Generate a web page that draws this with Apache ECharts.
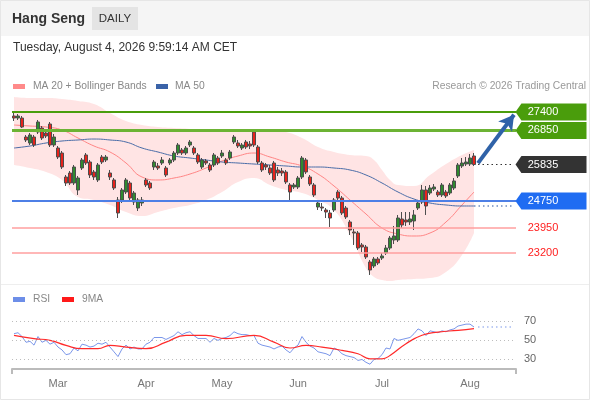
<!DOCTYPE html>
<html>
<head>
<meta charset="utf-8">
<title>Hang Seng daily</title>
<script src="https://cdn.jsdelivr.net/npm/echarts@6/dist/echarts.min.js"></script>
<style>
  html, body { margin: 0; padding: 0; background: #fff; }
  #chart { width: 590px; height: 400px; }
</style>
</head>
<body>
<div id="chart"></div>
<script>
'use strict';

// trading days shown on the axis (last ten are empty future slots)
var febDays = [10, 11, 12, 13, 16, 20, 23, 24, 25, 26, 27];
var marDays = [2, 3, 4, 5, 6, 9, 10, 11, 12, 13, 16, 17, 18, 19, 20, 23, 24, 25, 26, 27, 30, 31];
var aprDays = [1, 2, 8, 9, 10, 13, 14, 15, 16, 17, 20, 21, 22, 23, 24, 27, 28, 29, 30];
var mayDays = [4, 5, 6, 7, 8, 11, 12, 13, 14, 15, 18, 19, 20, 21, 22, 26, 27, 28, 29];
var junDays = [1, 2, 3, 4, 5, 8, 9, 10, 11, 12, 15, 16, 17, 18, 22, 23, 24, 25, 26, 29, 30];
var julDays = [2, 3, 6, 7, 8, 9, 10, 13, 14, 15, 16, 17, 20, 21, 22, 23, 24, 27, 28, 29, 30, 31];
var augDays = [3, 4, 5, 6, 7, 10, 11, 12, 13, 14, 17, 18];
var monthNames = { '02': 'Feb', '03': 'Mar', '04': 'Apr', '05': 'May', '06': 'Jun', '07': 'Jul', '08': 'Aug' };

var opens = [
  27281, 27221, 27221, 26655, 26476, 26655, 26804, 26923, 26774, 27042,
  26417, 26327, 26178, 25463, 25582, 25284, 25076, 25731, 26119, 25910,
  25612, 25374, 26059, 25970, 25582, 25374, 24778, 24778, 25016, 25284,
  24718, 24539, 24688, 25374, 25284, 25761, 25791, 25880, 25731, 25880,
  25970, 26178, 26268, 26178, 26417, 26327, 26119, 25761, 25940, 25821,
  25821, 26029, 26089, 25970, 26029, 26506, 26476, 26327, 26506, 26446,
  26804, 26357, 25880, 25821, 25731, 25880, 25672, 25642, 25612, 25225,
  25165, 25165, 25463, 25970, 25463, 25225, 24569, 24569, 24480, 24390,
  24480, 25016, 24837, 24539, 24122, 23824, 23794, 23437, 23377, 22930,
  22811, 23019, 23049, 23198, 23347, 23586, 23586, 24211, 24182, 24122,
  24152, 24539, 24718, 25076, 24986, 25105, 25016, 24927, 25016, 24986,
  25135, 25493, 25791, 25850, 25850, 26089
];
var closes = [
  27221, 27281, 26953, 26566, 26715, 26417, 27102, 26625, 26685, 26417,
  26655, 26059, 25761, 25284, 25284, 25761, 25433, 25970, 25880, 25523,
  25463, 25821, 25910, 26059, 25463, 25135, 24390, 25076, 25374, 24837,
  24986, 24778, 24778, 25225, 25135, 25910, 25731, 25970, 25523, 25970,
  26178, 26417, 26178, 26327, 26506, 26178, 25910, 25970, 25880, 25672,
  26119, 25880, 26178, 25880, 26208, 26655, 26387, 26417, 26357, 26387,
  26417, 25910, 25672, 25761, 25582, 25374, 25582, 25582, 25314, 25016,
  25225, 25433, 26029, 25612, 25254, 24927, 24688, 24539, 24420, 24241,
  24778, 24837, 24390, 24271, 23884, 23794, 23347, 23377, 23079, 22692,
  23019, 22900, 23109, 23347, 23645, 23705, 24241, 24033, 24122, 24211,
  24331, 24688, 25076, 24599, 25135, 25165, 24927, 25225, 24897, 25225,
  25344, 25821, 25880, 25910, 26029, 25835
];
var lows = [
  27132, 27162, 26923, 26506, 26417, 26357, 26744, 26566, 26625, 26357,
  26357, 25999, 25701, 25195, 25225, 25225, 24927, 25672, 25821, 25433,
  25374, 25314, 25850, 25910, 25374, 25076, 24241, 24688, 24956, 24778,
  24629, 24450, 24599, 25165, 25076, 25672, 25672, 25821, 25463, 25821,
  25910, 26119, 26119, 26119, 26357, 26119, 25850, 25701, 25821, 25612,
  25761, 25821, 26029, 25821, 25970, 26446, 26327, 26268, 26297, 26297,
  26357, 25850, 25612, 25672, 25523, 25314, 25493, 25493, 25254, 24718,
  25105, 25105, 25403, 25552, 25195, 24867, 24480, 24450, 24241, 23973,
  24420, 24778, 24331, 24211, 23735, 23437, 23288, 23228, 23019, 22543,
  22751, 22841, 22990, 23139, 23288, 23466, 23526, 23943, 24003, 24033,
  23884, 24480, 24658, 24331, 24927, 25046, 24867, 24867, 24837, 24927,
  25076, 25433, 25731, 25791, 25791, 25791
];
var highs = [
  27370, 27340, 27281, 26715, 26774, 26715, 27162, 26983, 26834, 27102,
  26744, 26387, 26238, 25523, 25642, 25821, 25493, 26029, 26178, 25970,
  25672, 25880, 26119, 26119, 25672, 25433, 24867, 25135, 25433, 25344,
  25046, 24837, 24867, 25433, 25344, 25970, 25880, 26059, 25791, 26029,
  26238, 26476, 26327, 26387, 26566, 26387, 26178, 26029, 25999, 25880,
  26178, 26089, 26268, 26029, 26268, 26715, 26566, 26476, 26566, 26536,
  26864, 26417, 25940, 25880, 25821, 25940, 25761, 25731, 25672, 25284,
  25284, 25493, 26089, 26029, 25523, 25284, 24778, 24688, 24539, 24480,
  24837, 25076, 24897, 24599, 24182, 23913, 23854, 23496, 23437, 22990,
  23079, 23079, 23198, 23437, 23705, 24003, 24331, 24420, 24420, 24420,
  24480, 24778, 25225, 25195, 25225, 25254, 25076, 25284, 25076, 25284,
  25433, 25880, 26029, 26059, 26148, 26178
];

// Bollinger bands, read at these candle positions
var bandIdx = [0, 4, 8, 12, 16, 20, 24, 28, 32, 36, 40, 44, 48, 52, 56, 60, 64, 68, 72, 76, 80, 84, 88,
  90, 92, 94, 96, 100, 104, 108, 112, 115];
var bandHigh = [27847, 27817, 27817, 27787, 27728, 27638, 27370, 27132, 27013, 26953, 26923, 26893, 26834,
  26804, 26804, 26864, 26864, 26804, 26625, 26357, 26208, 26119, 26089,
  25970, 25672, 25374, 25225, 25195, 25523, 25850, 26119, 26268];
var bandLow = [25821, 25731, 25612, 25374, 24867, 24778, 24629, 24420, 24301, 24420, 24539, 24629, 24778,
  25016, 25314, 25433, 25225, 25076, 24986, 24778, 24480, 23735, 22751,
  22483, 22394, 22364, 22394, 22423, 22453, 22632, 23139, 23794];

// moving averages, read at these candle positions
var maIdx = [0, 4, 8, 12, 16, 20, 24, 28, 32, 36, 40, 44, 48, 52, 56, 60, 64, 68, 72, 76, 80, 84, 88,
  92, 96, 100, 104, 108, 112, 115];
var ma20 = [27013, 26983, 26953, 26864, 26625, 26387, 26208, 25880, 25463, 25374, 25433, 25552, 25731,
  25940, 26089, 26178, 26059, 25910, 25791, 25552, 25195, 24778, 24360,
  23943, 23764, 23705, 23794, 24122, 24629, 25016];
var ma50 = [26327, 26387, 26476, 26536, 26566, 26595, 26566, 26506, 26327, 26208, 26089, 26029, 25970,
  25910, 25880, 25850, 25821, 25791, 25761, 25761, 25731, 25672, 25523,
  25284, 25016, 24807, 24688, 24629, 24599, 24599];

var rsi = [
  57, 58, 54, 48, 49, 45, 54, 48, 50, 46,
  48, 43, 40, 35, 36, 42, 39, 46, 45, 43,
  44, 47, 46, 48, 43, 38, 33, 41, 45, 41,
  43, 41, 41, 46, 48, 53, 53, 53, 51, 53,
  55, 59, 56, 58, 59, 55, 52, 52, 52, 48,
  52, 50, 52, 53, 55, 59, 57, 56, 56, 55,
  55, 47, 45, 44, 43, 41, 43, 44, 40, 37,
  42, 45, 54, 48, 44, 42, 38, 37, 36, 34,
  42, 40, 36, 34, 33, 32, 29, 30, 27, 25,
  30, 31, 35, 42, 41, 52, 50, 51, 52, 53,
  57, 62, 60, 55, 60, 59, 58, 60, 59, 61,
  62, 65, 66, 67, 67, 64
];
var rsiMaIdx = [0, 5, 9, 13, 17, 21, 24, 28, 33, 38, 43, 48, 53, 60, 65, 69, 73, 77, 82, 86, 89, 92, 94,
  98, 102, 106, 111, 115];
var rsiMa = [55.3, 51.8, 50, 44.7, 41.3, 41.3, 44.7, 42.9, 41.3, 48.2, 55.3, 55.3, 51.8, 55.3, 48.2, 42,
  44.7, 42.9, 39.5, 36, 30.7, 30.7, 34.2, 46.5, 55.3, 58.7, 60.5, 62.3];
var rsiLevels = [70, 50, 30];

var resistances = [27400, 26850];
var supports = [23950, 23200];
var pivot = 24750;
var lastPrice = 25835;
var target = 27400;

var FONT = "'Liberation Sans', Arial, sans-serif";

function buildDates() {
  var out = [];
  [['02', febDays], ['03', marDays], ['04', aprDays], ['05', mayDays],
   ['06', junDays], ['07', julDays], ['08', augDays]].forEach(function (m) {
    m[1].forEach(function (d) {
      out.push('2026-' + m[0] + '-' + (d < 10 ? '0' + d : d));
    });
  });
  return out;
}
var dates = buildDates();
var lastIdx = closes.length - 1;
var endIdx = dates.length - 1;

function pairs(idx, vals) {
  return idx.map(function (x, k) { return [x, vals[k]]; });
}
function isMonthStart(index, value) {
  return index > 0 && value.slice(5, 7) !== dates[index - 1].slice(5, 7);
}

var candles = opens.map(function (o, i) {
  return [o, closes[i], lows[i], highs[i]];
});

var tagPath = 'path://M0,8 L6,0 L72,0 L72,16 L6,16 Z';
function tag(value, color, textColor, boxed) {
  return {
    coord: [endIdx, value],
    value: value,
    symbol: boxed ? tagPath : 'rect',
    symbolSize: [71, 17],
    symbolOffset: [37, 0],
    itemStyle: { color: boxed ? color : 'rgba(0,0,0,0)' },
    label: { color: textColor }
  };
}

var myChart = echarts.init(document.getElementById('chart'), null, { renderer: 'canvas' });

var option = {
  animation: false,
  backgroundColor: '#fff',
  textStyle: { fontFamily: FONT },
  graphic: [
    { type: 'rect', shape: { x: 0, y: 0, width: 590, height: 36 }, style: { fill: '#f5f5f5' }, silent: true },
    { type: 'text', x: 12, y: 19, style: { text: 'Hang Seng', font: 'bold 14px ' + FONT, fill: '#333', verticalAlign: 'middle' } },
    { type: 'rect', shape: { x: 92, y: 7, width: 46, height: 23 }, style: { fill: '#e4e4e4' } },
    { type: 'text', x: 115, y: 19, style: { text: 'DAILY', font: '11.5px ' + FONT, fill: '#333', align: 'center', verticalAlign: 'middle' } },
    { type: 'text', x: 13, y: 48, style: { text: 'Tuesday, August 4, 2026 9:59:14 AM CET', font: '12px ' + FONT, fill: '#333', verticalAlign: 'middle' } },
    { type: 'rect', shape: { x: 13, y: 84, width: 12, height: 5 }, style: { fill: '#ff8a8a' } },
    { type: 'text', x: 33, y: 86.5, style: { text: 'MA 20 + Bollinger Bands', font: '10.3px ' + FONT, fill: '#888', verticalAlign: 'middle' } },
    { type: 'rect', shape: { x: 156, y: 84, width: 12, height: 5 }, style: { fill: '#3a63a8' } },
    { type: 'text', x: 175, y: 86.5, style: { text: 'MA 50', font: '10.3px ' + FONT, fill: '#888', verticalAlign: 'middle' } },
    { type: 'text', x: 586, y: 86.5, style: { text: 'Research \u00a9 2026 Trading Central', font: '10.3px ' + FONT, fill: '#999', align: 'right', verticalAlign: 'middle' } },
    { type: 'line', shape: { x1: 0, y1: 284.5, x2: 590, y2: 284.5 }, style: { stroke: '#eeeeee', lineWidth: 1 } },
    { type: 'rect', shape: { x: 13, y: 297, width: 12, height: 5 }, style: { fill: '#6d8ee8' } },
    { type: 'text', x: 33, y: 299.5, style: { text: 'RSI', font: '10.3px ' + FONT, fill: '#888', verticalAlign: 'middle' } },
    { type: 'rect', shape: { x: 62, y: 297, width: 12, height: 5 }, style: { fill: '#ff1a1a' } },
    { type: 'text', x: 82, y: 299.5, style: { text: '9MA', font: '10.3px ' + FONT, fill: '#888', verticalAlign: 'middle' } },
    // end tick of the bottom time axis
    { type: 'line', shape: { x1: 516, y1: 369, x2: 516, y2: 374 }, style: { stroke: '#bbbbbb', lineWidth: 2 } },
    { type: 'rect', shape: { x: 0.5, y: 0.5, width: 589, height: 399 }, style: { fill: 'none', stroke: '#e6e6e6', lineWidth: 1 }, silent: true }
  ],
  grid: [
    { left: 12, top: 95, width: 504, height: 188 },
    { left: 12, top: 306, width: 504, height: 63 }
  ],
  xAxis: [
    { type: 'category', gridIndex: 0, data: dates, boundaryGap: true, show: false },
    {
      type: 'category', gridIndex: 1, data: dates, boundaryGap: true,
      axisLine: { lineStyle: { color: '#bbbbbb', width: 2 } },
      axisTick: { show: true, interval: function (i) { return i === 0; }, length: 5, inside: false, lineStyle: { color: '#bbbbbb', width: 2 } },
      axisLabel: {
        interval: isMonthStart,
        formatter: function (v) { return monthNames[v.slice(5, 7)]; },
        color: '#777', fontSize: 11, margin: 9, fontFamily: FONT
      },
      splitLine: { show: false }
    }
  ],
  yAxis: [
    { type: 'value', gridIndex: 0, min: 22304, max: 27907, show: false },
    { type: 'value', gridIndex: 1, min: 20, max: 86, show: false }
  ],
  series: [
    {
      name: 'bbBase', type: 'line', xAxisIndex: 0, yAxisIndex: 0, stack: 'bb', z: 1,
      data: pairs(bandIdx, bandLow), smooth: true, symbol: 'none', silent: true,
      lineStyle: { opacity: 0 }
    },
    {
      name: 'bbFill', type: 'line', xAxisIndex: 0, yAxisIndex: 0, stack: 'bb', z: 1,
      data: bandIdx.map(function (x, k) { return [x, bandHigh[k] - bandLow[k]]; }),
      smooth: true, symbol: 'none', silent: true,
      lineStyle: { opacity: 0 },
      areaStyle: { color: '#ffe4e4', opacity: 1 }
    },
    {
      name: 'MA 20', type: 'line', z: 2, data: pairs(maIdx, ma20), smooth: true, symbol: 'none',
      lineStyle: { color: '#ff8585', width: 1 }
    },
    {
      name: 'MA 50', type: 'line', z: 2, data: pairs(maIdx, ma50), smooth: true, symbol: 'none',
      lineStyle: { color: '#4a6da8', width: 1 }
    },
    {
      name: 'MA 50 ext', type: 'line', z: 2, data: [[lastIdx, ma50[ma50.length - 1]], [endIdx, ma50[ma50.length - 1]]],
      symbol: 'none', lineStyle: { color: '#6f8cc0', width: 1.5, type: [1.5, 3] }
    },
    {
      name: 'last ext', type: 'line', z: 2, data: [[lastIdx + 1, lastPrice], [endIdx, lastPrice]],
      symbol: 'none', lineStyle: { color: '#333', width: 1.2, type: [1.5, 3] }
    },
    {
      name: 'Hang Seng', type: 'candlestick', xAxisIndex: 0, yAxisIndex: 0, z: 4,
      data: candles, barWidth: 3,
      itemStyle: { color: '#2f8a2f', color0: '#e8221b', borderColor: '#4d4d4d', borderColor0: '#4d4d4d', borderWidth: 1 },
      markLine: {
        silent: true, symbol: ['none', 'none'], animation: false,
        label: { show: false },
        data: [
          { yAxis: resistances[0], lineStyle: { color: '#4a9d0c', width: 2, type: 'solid' } },
          { yAxis: resistances[1], lineStyle: { color: '#6cb334', width: 3, type: 'solid' } },
          { yAxis: pivot, lineStyle: { color: '#4d7fe6', width: 1.8, type: 'solid' } },
          { yAxis: supports[0], lineStyle: { color: '#ff9f9f', width: 1.5, type: 'solid' } },
          { yAxis: supports[1], lineStyle: { color: '#ff9f9f', width: 1.5, type: 'solid' } },
          [
            { coord: [lastIdx + 1, lastPrice + 40], symbol: 'none' },
            { coord: [endIdx, target - 80], symbol: 'arrow', symbolSize: [13, 15],
              lineStyle: { color: '#2f62a8', width: 4, type: 'solid' } }
          ]
        ]
      },
      markPoint: {
        silent: true, animation: false,
        label: { show: true, position: 'inside', fontSize: 11, fontFamily: FONT, offset: [-8, 0], formatter: '{c}' },
        data: [
          tag(resistances[0], '#4a9d0c', '#fff', true),
          tag(resistances[1], '#4a9d0c', '#fff', true),
          tag(lastPrice, '#333333', '#fff', true),
          tag(pivot, '#1f6cf2', '#fff', true),
          tag(supports[0], null, '#ff2020', false),
          tag(supports[1], null, '#ff2020', false)
        ]
      }
    },
    {
      name: 'RSI', type: 'line', xAxisIndex: 1, yAxisIndex: 1, data: rsi, symbol: 'none',
      lineStyle: { color: '#7b97ea', width: 1 },
      markLine: {
        silent: true, symbol: ['none', 'none'], animation: false,
        lineStyle: { color: '#bdbdbd', width: 1, type: [1, 3] },
        label: { position: 'end', formatter: '{c}', color: '#666', fontSize: 11, distance: 8, fontFamily: FONT },
        data: rsiLevels.map(function (v) { return { yAxis: v }; })
      }
    },
    {
      name: '9MA', type: 'line', xAxisIndex: 1, yAxisIndex: 1, data: pairs(rsiMaIdx, rsiMa),
      smooth: true, symbol: 'none', lineStyle: { color: '#ff2a2a', width: 1.2 }
    },
    {
      name: 'RSI ext', type: 'line', xAxisIndex: 1, yAxisIndex: 1,
      data: [[lastIdx + 1, rsi[lastIdx]], [endIdx, rsi[lastIdx]]],
      symbol: 'none', lineStyle: { color: '#7b97ea', width: 1.2, type: [1.5, 3] }
    }
  ]
};

myChart.setOption(option);
</script>
</body>
</html>
